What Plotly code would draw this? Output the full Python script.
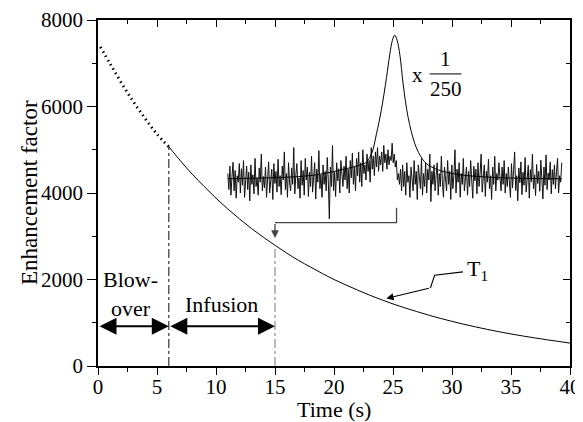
import numpy as np
import plotly.graph_objects as go

# --- Datos ---
# curva de relajacion T1 (parte punteada: blow-over)
t_blow = [0.2, 1, 2, 3, 4, 5, 6]
v_blow = [7380, 7000, 6540, 6110, 5720, 5360, 5070]

t_decay = [6, 7, 8, 9, 10, 11, 12, 13, 14, 15, 16, 17, 18, 19, 20, 21, 22, 23,
           24, 25, 26, 27, 28, 29, 30, 31, 32, 33, 34, 35, 36, 37, 38, 39, 40]
v_decay = [5070, 4740, 4430, 4150, 3880, 3630, 3400, 3180, 2980, 2790, 2610,
           2440, 2290, 2140, 2000, 1875, 1755, 1640, 1535, 1435, 1345, 1260,
           1178, 1102, 1032, 966, 904, 846, 792, 741, 694, 650, 608, 569, 530]

# senal ruidosa (x 1/250), muestreo regular de 11.0 s a 39.3 s
noise_t0, noise_t1 = 11.0, 39.3
noise_v = [
    4450, 4080, 4620, 3950, 4380, 4710, 4050, 4520, 3880, 4400, 4250, 4680, 4000, 4560, 4180,
    4750, 3900, 4300, 4620, 4080, 4480, 3820, 4650, 4200, 4420, 3980, 4800, 4150, 4350, 3950,
    4580, 4250, 4900, 4050, 4380, 4120, 4600, 3900, 4450, 4720, 4000, 4330, 4550, 3850, 4680,
    4220, 4500, 4020, 4780, 4150, 4400, 3960, 4620, 4300, 4950, 4080, 4450, 3900, 4700, 4250,
    4050, 4580, 4200, 5050, 3980, 4420, 4680, 4100, 4350, 3880, 4750, 4180, 4520, 3950, 4800,
    4300, 4600, 3920, 4480, 4150, 4850, 4020, 4380, 4700, 3860, 4550, 4250, 4980, 4100, 4420,
    3900, 4650, 4200, 4500, 4050, 4820, 4280, 3400, 4600, 4150, 5100, 4050, 4480, 3920, 4700,
    4280, 4560, 4000, 4750, 4350, 4150, 4620, 4300,
    # subida alrededor del pico
    4850, 4100, 4550, 4000, 4750, 4350, 4920, 4200, 4600, 4050, 4800, 4400, 4950, 4250, 4700,
    4150, 5000, 4450, 4650, 4300, 4900, 4500, 4750, 4250, 5050, 4550, 4850, 4400, 4950, 4600,
    5050, 4500, 4850, 4650, 4950, 4500, 5100, 4700, 4900, 4550, 5000, 4650, 4850, 4750, 5150,
    4700, 4900, 4600, 4750,
    4300, 4450,
    4200, 4550, 4050, 4650, 4150, 4500, 3950, 4700, 4250, 4400, 3900, 4600, 4350, 4050, 4750,
    4200, 4500, 3850, 4650, 4300, 4100, 4800, 3950, 4450, 4150, 4700, 4000, 4550, 4300, 4900,
    3800, 4500, 4200, 4650, 4050, 4400, 4700, 3950, 4450, 4150, 4850, 4250, 3900, 4600, 4350,
    4050, 4750, 4200, 4500, 3850, 4650, 4100, 4400, 5000, 4000, 4550, 4250, 4700, 3900, 4450,
    4200, 4800, 4050, 4350, 4600, 3950, 4500, 4150, 4750, 4300, 3880, 4620, 4280, 4550, 3980,
    4700, 4150, 4450, 4900, 4020, 4380, 4650, 3920, 4500, 4250, 4780, 4100, 4400, 3850, 4600,
    4200, 4850, 4050, 4450, 4300, 4700, 4350, 4050, 4600, 4200, 4750, 4000, 4450, 4150, 4600,
    4300, 3900, 4680, 4120, 4520, 4950, 4060, 4400, 3820, 4580, 4240, 4720, 3960, 4480, 4180,
    4820, 4020, 4360, 4640, 3880, 4540, 4260, 4900, 4100, 4420, 3940, 4660, 4220, 4500, 4040,
    4760, 4320, 3860, 4600, 4180, 4880, 4080, 4460, 4300, 4720, 3980, 4540, 4200, 4650, 4100,
    4500, 4800, 4000, 4400, 4250, 4700,
]
noise_t = np.linspace(noise_t0, noise_t1, len(noise_v))

# ajuste lorentziano sobre la senal
t_fit = [11, 13, 15, 17, 18.5, 19.7, 21, 22, 22.7, 23.2, 23.6, 24.0, 24.45,
         24.73, 24.95, 25.15, 25.35, 25.58, 25.86, 26.28, 26.85, 27.3, 27.83,
         28.6, 29.5, 31, 32.9, 35, 37, 39.3]
v_fit = [4330, 4340, 4355, 4380, 4420, 4480, 4560, 4630, 4700, 4920, 5370,
         5900, 6670, 7210, 7530, 7650, 7530, 7200, 6520, 5750, 5140, 4870,
         4680, 4560, 4480, 4410, 4370, 4345, 4335, 4330]

# marcas auxiliares
t_blow_end, t_inf_end = 6, 15
v_blow_end, v_inf_end = 5070, 2790
arrow_level = 920
bracket_t = [25.3, 25.3, 15.0, 15.0]
bracket_v = [3660, 3316, 3316, 3316]
zig_t = [30.93, 28.53, 28.17]
zig_v = [2176, 2100, 1807]

FONT = "Liberation Serif"

fig = go.Figure()

fig.add_trace(go.Scatter(x=noise_t, y=noise_v, mode="lines",
                         line=dict(color="#111", width=1)))
fig.add_trace(go.Scatter(x=t_fit, y=v_fit, mode="lines", line_shape="spline",
                         line=dict(color="black", width=1)))
fig.add_trace(go.Scatter(x=t_blow, y=v_blow, mode="lines", line_shape="spline",
                         line=dict(color="black", width=2.8, dash="1.5px,3.5px")))
fig.add_trace(go.Scatter(x=t_decay, y=v_decay, mode="lines", line_shape="spline",
                         line=dict(color="black", width=1)))

# lineas verticales punto-raya
fig.add_trace(go.Scatter(x=[t_blow_end, t_blow_end], y=[0, v_blow_end], mode="lines",
                         line=dict(color="#333", width=1.2, dash="dashdot")))
fig.add_trace(go.Scatter(x=[t_inf_end, t_inf_end], y=[0, v_inf_end], mode="lines",
                         line=dict(color="#777", width=1, dash="dashdot")))

# corchete que baja hasta la curva
fig.add_trace(go.Scatter(x=bracket_t, y=bracket_v, mode="lines",
                         line=dict(color="#444", width=1.3)))
fig.add_trace(go.Scatter(x=zig_t, y=zig_v, mode="lines",
                         line=dict(color="black", width=1.2)))

# trazas invisibles para los ejes espejo
fig.add_trace(go.Scatter(x=[0], y=[0], xaxis="x2", yaxis="y2", mode="markers",
                         marker=dict(opacity=0), hoverinfo="skip"))

ann = []
ann.append(dict(x=t_blow_end, y=arrow_level, ax=0, ay=arrow_level, xref="x", yref="y",
                axref="x", ayref="y", text="", showarrow=True, arrowside="end+start",
                arrowhead=2, arrowsize=1.7, arrowwidth=2, arrowcolor="black", standoff=0,
                startstandoff=0))
ann.append(dict(x=t_inf_end, y=arrow_level, ax=t_blow_end, ay=arrow_level, xref="x",
                yref="y", axref="x", ayref="y", text="", showarrow=True,
                arrowside="end+start", arrowhead=2, arrowsize=1.7, arrowwidth=2,
                arrowcolor="black", standoff=0, startstandoff=0))
ann.append(dict(x=15.0, y=2960, ax=15.0, ay=3316, xref="x", yref="y", axref="x",
                ayref="y", text="", showarrow=True, arrowhead=2, arrowsize=1.2,
                arrowwidth=1.3, arrowcolor="#444"))
ann.append(dict(x=24.44, y=1562, ax=28.17, ay=1807, xref="x", yref="y", axref="x",
                ayref="y", text="", showarrow=True, arrowhead=2, arrowsize=1.2,
                arrowwidth=1.2, arrowcolor="black"))

txt = dict(showarrow=False, xref="x", yref="y", font=dict(family=FONT, size=22, color="black"))
ann.append(dict(txt, x=2.75, y=1660, text="Blow-<br>over"))
ann.append(dict(txt, x=10.5, y=1430, text="Infusion"))
ann.append(dict(txt, x=31.1, y=2220, text="T<sub>1</sub>", xanchor="left"))
frac = dict(txt, font=dict(family=FONT, size=21, color="black"))
ann.append(dict(frac, x=27.1, y=6740, text="x"))
ann.append(dict(frac, x=29.45, y=6770, text="1", yanchor="bottom"))
ann.append(dict(frac, x=29.45, y=6730, text="250", yanchor="top"))

# titulos de ejes como anotaciones
ann.append(dict(showarrow=False, xref="paper", yref="paper", x=0.5, y=0,
                yanchor="top", yshift=-29, text="Time (s)",
                font=dict(family=FONT, size=22, color="black")))
ann.append(dict(showarrow=False, xref="paper", yref="paper", x=0, y=0.5,
                xanchor="center", xshift=-69, textangle=-90, text="Enhancement factor",
                font=dict(family=FONT, size=23, color="black")))

fig.add_shape(type="line", x0=28.1, x1=30.8, y0=6753, y1=6753, xref="x", yref="y",
              line=dict(color="black", width=1))

# la pagina tiene 8 px de margen en el body: se compensa en el tamano
axis_font = dict(family=FONT, size=21, color="black")
common = dict(showgrid=False, zeroline=False, showline=True, linecolor="black",
              linewidth=1.5, tickwidth=1.2, tickcolor="black", automargin=False)
fig.update_layout(
    width=575, height=414,
    margin=dict(l=90, r=13, t=12, b=56),
    paper_bgcolor="white", plot_bgcolor="white",
    showlegend=False,
    font=dict(family=FONT, color="black"),
    annotations=ann,
    xaxis=dict(common, range=[0, 40], tickvals=[0, 5, 10, 15, 20, 25, 30, 35, 40],
               ticks="outside", ticklen=7, ticklabelstandoff=-6,
               minor=dict(ticks="outside", ticklen=4, dtick=2.5, tickcolor="black"),
               tickfont=axis_font),
    yaxis=dict(common, range=[0, 8000], tickvals=[0, 2000, 4000, 6000, 8000],
               ticks="outside", ticklen=9,
               minor=dict(ticks="outside", ticklen=4, dtick=1000, tickcolor="black"),
               tickfont=axis_font),
    xaxis2=dict(common, range=[0, 40], overlaying="x", side="top",
                tickvals=[0, 5, 10, 15, 20, 25, 30, 35, 40], ticks="inside", ticklen=7,
                minor=dict(ticks="inside", ticklen=4, dtick=2.5, tickcolor="black"),
                showticklabels=False),
    yaxis2=dict(common, range=[0, 8000], overlaying="y", side="right",
                tickvals=[0, 2000, 4000, 6000, 8000], ticks="inside", ticklen=7,
                minor=dict(ticks="inside", ticklen=4, dtick=1000, tickcolor="black"),
                showticklabels=False),
)

fig.write_html("out.html")
